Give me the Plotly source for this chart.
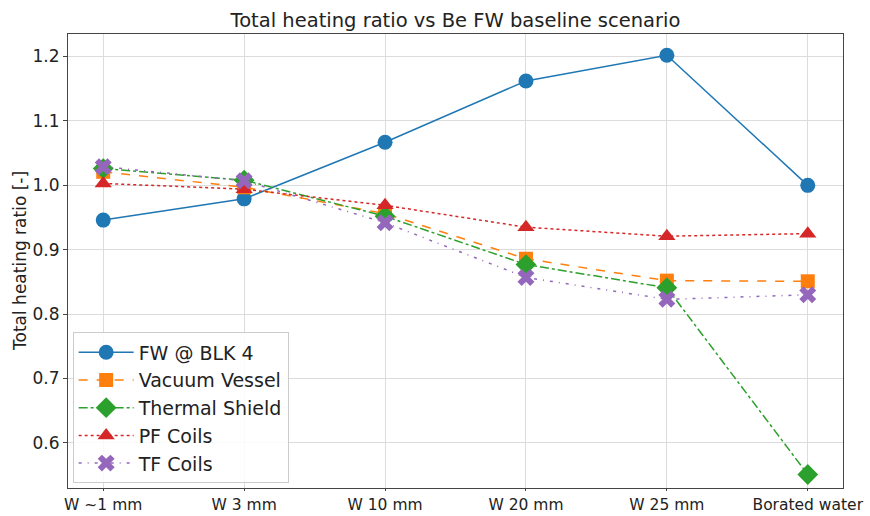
import plotly.graph_objects as go

# Scenarios along the x axis
categories = ["W ~1 mm", "W 3 mm", "W 10 mm", "W 20 mm", "W 25 mm", "Borated water"]

# Total heating ratio relative to the Be first-wall baseline
fw_blk4 = [0.946, 0.979, 1.067, 1.162, 1.202, 1.000]
vacuum_vessel = [1.021, 0.997, 0.956, 0.886, 0.852, 0.851]
thermal_shield = [1.026, 1.008, 0.952, 0.877, 0.841, 0.551]
pf_coils = [1.003, 0.994, 0.969, 0.935, 0.921, 0.925]
tf_coils = [1.029, 1.007, 0.942, 0.857, 0.823, 0.830]

y_ticks = [0.6, 0.7, 0.8, 0.9, 1.0, 1.1, 1.2]

FONT = "DejaVu Sans"
xs = list(range(len(categories)))

series = [
    ("FW @ BLK 4", fw_blk4, "#1f77b4", "solid", "circle", 15),
    ("Vacuum Vessel", vacuum_vessel, "#ff7f0e", "dash", "square", 14),
    ("Thermal Shield", thermal_shield, "#2ca02c", "dashdot", "diamond", 16),
    ("PF Coils", pf_coils, "#d62728", "dot", "triangle-up", 15),
    ("TF Coils", tf_coils, "#9467bd", "3px,6px,1px,6px", "x", 15),
]

fig = go.Figure()
for name, vals, color, dash, symbol, size in series:
    fig.add_trace(go.Scatter(
        x=xs, y=vals, name=name, mode="lines+markers",
        line=dict(color=color, width=1.5, dash=dash),
        marker=dict(symbol=symbol, size=size, color=color, line=dict(width=0)),
    ))

axis_common = dict(
    showgrid=True, gridcolor="#dcdcdc", gridwidth=1,
    showline=True, linecolor="#444444", linewidth=1, mirror=True,
    ticks="outside", tickcolor="#444444",
    zeroline=False, automargin=False,
)

fig.update_layout(
    width=870, height=516,
    margin=dict(l=68, r=27, t=34, b=28),
    paper_bgcolor="white", plot_bgcolor="white",
    title=dict(text="Total heating ratio vs Be FW baseline scenario",
               x=(68 + 843) / 2 / 870, xanchor="center", y=1 - 20 / 516, yanchor="middle",
               font=dict(family=FONT, size=19.5, color="#222222")),
    xaxis=dict(range=[-0.25, 5.25], tickmode="array", tickvals=xs, ticktext=categories,
               ticklen=2, tickfont=dict(family=FONT, size=15.5, color="#222222"),
               **axis_common),
    yaxis=dict(range=[0.530, 1.235], tickmode="array", tickvals=y_ticks,
               ticktext=[f"{v:.1f}" for v in y_ticks],
               ticklen=4, tickfont=dict(family=FONT, size=17, color="#222222"),
               **axis_common),
    legend=dict(x=0.006, y=0.01, xanchor="left", yanchor="bottom",
                bgcolor="rgba(255,255,255,0.85)", bordercolor="#cccccc", borderwidth=1,
                font=dict(family=FONT, size=19, color="#222222"),
                itemwidth=55, tracegroupgap=0),
    showlegend=True,
)

fig.add_annotation(
    text="Total heating ratio [-]", textangle=-90,
    xref="paper", yref="paper", x=(20 - 68) / 775, y=0.5, xanchor="center", yanchor="middle",
    showarrow=False, font=dict(family=FONT, size=17, color="#222222"),
)

fig.write_html("out.html")
